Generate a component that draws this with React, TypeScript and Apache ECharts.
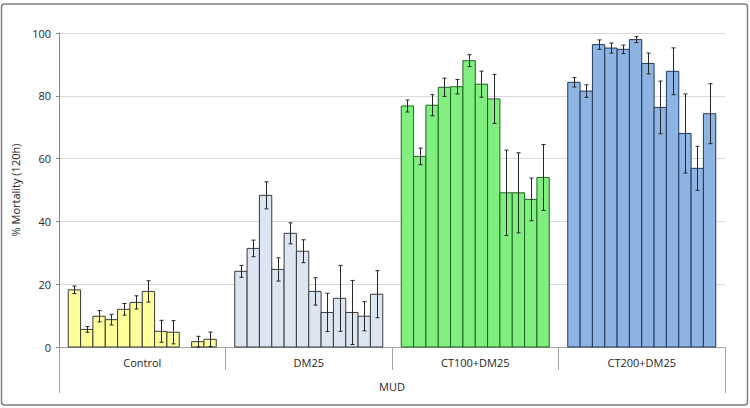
import React, { useEffect, useRef } from "react";
import * as echarts from "echarts";

const groups = ["Control", "DM25", "CT100+DM25", "CT200+DM25"];
const outerLabel = ["MUD"];
const yTicks = [0, 20, 40, 60, 80, 100];

const controlMeans = [18.2, 5.6, 9.8, 8.7, 12.0, 14.2, 17.7, 5.0, 4.7, null, 1.7, 2.45];
const controlErrors = [1.2, 0.9, 1.8, 1.7, 1.85, 2.1, 3.4, 3.5, 3.7, null, 1.7, 2.3];
const dm25Means = [24.1, 31.4, 48.3, 24.7, 36.2, 30.5, 17.7, 11.0, 15.5, 11.0, 9.8, 16.8];
const dm25Errors = [1.9, 2.65, 4.3, 3.7, 3.35, 3.65, 4.35, 6.1, 10.5, 10.2, 4.65, 7.5];
const ct100Means = [76.75, 60.7, 77.0, 82.7, 82.9, 91.2, 83.7, 79.0, 49.1, 49.1, 47.0, 54.0];
const ct100Errors = [1.9, 2.65, 3.35, 2.9, 2.3, 1.9, 4.15, 7.8, 13.6, 12.75, 6.8, 10.5];
const ct200Means = [84.3, 81.5, 96.3, 95.2, 94.8, 97.9, 90.3, 76.3, 87.8, 68.0, 56.9, 74.3];
const ct200Errors = [1.5, 2.0, 1.5, 1.6, 1.35, 0.95, 3.3, 8.4, 7.45, 12.6, 7.0, 9.55];

const allMeans = [controlMeans, dm25Means, ct100Means, ct200Means];
const allErrors = [controlErrors, dm25Errors, ct100Errors, ct200Errors];

const fills = ["#FFFF99", "#DCE6F2", "#80EF80", "#8DB4E2"];
const borders = ["#3A3A3A", "#3A3A3A", "#1E641E", "#1F3A5C"];
const GAP = 1.5 / 13.5;
const N_SERIES = 12;
const FONT = "Open Sans";

export default function App() {
  const ref = useRef<HTMLDivElement>(null);
  useEffect(() => {
    document.body.style.margin = "0";
    const chart = echarts.init(ref.current!, null, { renderer: "svg" });

    const barData: any[] = [];
    groups.forEach((g, gi) => {
      for (let s = 0; s < N_SERIES; s++) {
        const m = allMeans[gi][s];
        const e = allErrors[gi][s];
        if (m != null) barData.push([gi, s, m, e == null ? 0 : e]);
      }
    });

    const slot = (api: any, gi: number, s: number) => {
      const c = api.coord([gi, 0]);
      const band = api.size([1, 0])[0];
      const inner = band * (1 - GAP);
      const bw = inner / N_SERIES;
      const x0 = c[0] - inner / 2 + s * bw;
      return { x0, bw, y0: c[1] };
    };

    const barSeries = {
      type: "custom",
      name: "bars",
      xAxisIndex: 0,
      yAxisIndex: 0,
      z: 2,
      encode: { x: 0, y: 2 },
      data: barData,
      renderItem: (params: any, api: any) => {
        const gi = api.value(0);
        const s = api.value(1);
        const m = api.value(2);
        const { x0, bw, y0 } = slot(api, gi, s);
        const yTop = api.coord([gi, m])[1];
        return {
          type: "rect",
          shape: { x: x0, y: yTop, width: bw, height: y0 - yTop },
          style: { fill: fills[gi], stroke: borders[gi], lineWidth: 1 },
        };
      },
    };

    const errSeries = {
      type: "custom",
      name: "errors",
      xAxisIndex: 0,
      yAxisIndex: 0,
      z: 5,
      encode: { x: 0, y: 2 },
      data: barData.filter((d) => d[3] > 0),
      renderItem: (params: any, api: any) => {
        const gi = api.value(0);
        const s = api.value(1);
        const m = api.value(2);
        const e = api.value(3);
        const { x0, bw } = slot(api, gi, s);
        const x = Math.round(x0 + bw / 2) + 0.5;
        const yHi = api.coord([gi, m + e])[1];
        const yLo = api.coord([gi, Math.max(0, m - e)])[1];
        const st = { stroke: "#262626", lineWidth: 1 };
        return {
          type: "group",
          children: [
            { type: "line", shape: { x1: x, y1: yHi, x2: x, y2: yLo }, style: st },
            { type: "line", shape: { x1: x - 2, y1: yHi, x2: x + 2, y2: yHi }, style: st },
            { type: "line", shape: { x1: x - 2, y1: yLo, x2: x + 2, y2: yLo }, style: st },
          ],
        };
      },
    };

    const grid = { left: 59, right: 25, top: 33, bottom: 61, containLabel: false };
    chart.setOption({
      animation: false,
      backgroundColor: "#FFFFFF",
      textStyle: { fontFamily: FONT },
      grid: [grid, { ...grid }],
      xAxis: [
        {
          type: "category",
          gridIndex: 0,
          data: groups,
          position: "bottom",
          axisLine: { show: true, lineStyle: { color: "#A6A6A6", width: 1 } },
          axisTick: { show: true, interval: 0, length: 23, alignWithLabel: false, lineStyle: { color: "#A6A6A6" } },
          axisLabel: { interval: 0, margin: 10, fontSize: 11, color: "#262626", fontFamily: FONT },
          splitLine: { show: false },
        },
        {
          type: "category",
          gridIndex: 1,
          data: outerLabel,
          position: "bottom",
          axisLine: { show: false },
          axisTick: { show: true, interval: 0, length: 46, alignWithLabel: false, lineStyle: { color: "#A6A6A6" } },
          axisLabel: { interval: 0, margin: 34, fontSize: 11, color: "#262626", fontFamily: FONT },
          splitLine: { show: false },
        },
      ],
      yAxis: [
        {
          type: "value",
          gridIndex: 0,
          min: yTicks[0],
          max: yTicks[yTicks.length - 1],
          interval: yTicks[1] - yTicks[0],
          name: "% Mortality (120h)",
          nameLocation: "middle",
          nameGap: 31,
          nameTextStyle: { fontSize: 11, color: "#262626", fontFamily: FONT },
          axisLine: { show: true, lineStyle: { color: "#868686" } },
          axisTick: { show: true, length: 3, lineStyle: { color: "#868686" } },
          axisLabel: { margin: 8, fontSize: 11, color: "#262626", fontFamily: FONT },
          splitLine: { show: true, lineStyle: { color: "#D9D9D9", width: 1 } },
        },
        {
          type: "value",
          gridIndex: 1,
          min: 0,
          max: 100,
          show: false,
        },
      ],
      graphic: [
        {
          type: "rect",
          shape: { x: 1.5, y: 4, width: 746, height: 401, r: 3 },
          style: { fill: "none", stroke: "#7F7F7F", lineWidth: 1.5 },
          silent: true,
        },
      ],
      series: [barSeries, errSeries],
    });
    return () => chart.dispose();
  }, []);
  return <div ref={ref} style={{ width: 750, height: 408 }} />;
}
